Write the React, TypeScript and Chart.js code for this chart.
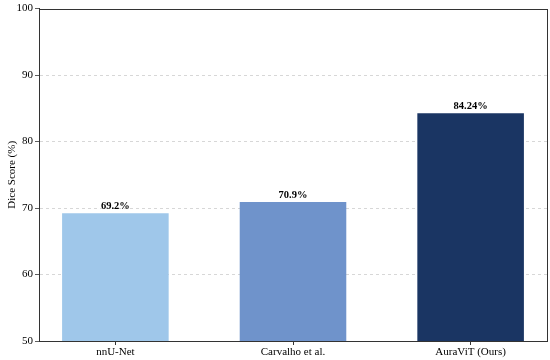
import React, { useEffect, useRef } from "react";
import { Chart, registerables } from "chart.js";

Chart.register(...registerables);

const categories = ["nnU-Net", "Carvalho et al.", "AuraViT (Ours)"];
const diceScores = [69.2, 70.9, 84.24];
const valueLabels = ["69.2%", "70.9%", "84.24%"];
const barColors = ["#9fc7ea", "#6f93cb", "#1a3563"];
const yTicks = [50, 60, 70, 80, 90, 100];

const FONT = "'Liberation Serif', 'Times New Roman', serif";

const framePlugin = {
  id: "frame",
  afterDraw(chart: any) {
    const { ctx, chartArea } = chart;
    ctx.save();
    ctx.strokeStyle = "#333333";
    ctx.lineWidth = 1;
    ctx.setLineDash([]);
    ctx.strokeRect(
      Math.round(chartArea.left) + 0.5,
      Math.round(chartArea.top) + 0.5,
      Math.round(chartArea.right - chartArea.left),
      Math.round(chartArea.bottom - chartArea.top)
    );
    ctx.restore();
  },
};

const valueLabelPlugin = {
  id: "valueLabels",
  afterDatasetsDraw(chart: any) {
    const { ctx } = chart;
    const meta = chart.getDatasetMeta(0);
    ctx.save();
    ctx.font = `bold 10.5px ${FONT}`;
    ctx.fillStyle = "#000000";
    ctx.textAlign = "center";
    ctx.textBaseline = "bottom";
    meta.data.forEach((bar: any, i: number) => {
      ctx.fillText(valueLabels[i], bar.x, bar.y - 2);
    });
    ctx.restore();
  },
};

export default function App() {
  const canvasRef = useRef<HTMLCanvasElement | null>(null);

  useEffect(() => {
    if (!canvasRef.current) return;
    const chart = new Chart(canvasRef.current, {
      type: "bar",
      data: {
        datasets: [
          {
            data: diceScores.map((v, i) => ({ x: i, y: v })),
            backgroundColor: barColors,
            borderWidth: 0,
            barPercentage: 0.6,
            categoryPercentage: 1,
          },
        ],
      },
      options: {
        responsive: false,
        animation: false,
        layout: { padding: { top: 7, right: 3, left: 0, bottom: 0 } },
        plugins: {
          legend: { display: false },
          tooltip: { enabled: false },
        },
        scales: {
          x: {
            type: "linear",
            min: -0.43,
            max: 2.43,
            offset: false,
            afterBuildTicks: (scale: any) => {
              scale.ticks = categories.map((_, i) => ({ value: i }));
            },
            afterFit: (scale: any) => {
              scale.height = 19;
            },
            ticks: {
              callback: (v: any) => categories[v as number] ?? "",
              color: "#000000",
              font: { family: FONT, size: 11 },
              padding: 1,
              maxRotation: 0,
              autoSkip: false,
            },
            grid: {
              display: true,
              offset: false,
              drawOnChartArea: false,
              drawTicks: true,
              tickLength: 4,
              tickColor: "#333333",
            },
            border: { display: true, color: "#333333" },
          },
          y: {
            min: 50,
            max: 100,
            z: 1,
            afterBuildTicks: (scale: any) => {
              scale.ticks = yTicks.map((v) => ({ value: v }));
            },
            afterFit: (scale: any) => {
              scale.width = 39;
            },
            ticks: {
              color: "#000000",
              font: { family: FONT, size: 11 },
              padding: 2,
            },
            grid: {
              color: (c: any) =>
                c.tick && (c.tick.value === 50 || c.tick.value === 100)
                  ? "rgba(0,0,0,0)"
                  : "rgba(170,170,170,0.6)",
              tickColor: "#333333",
              tickLength: 4,
              tickBorderDash: [],
              tickBorderDashOffset: 0,
              lineWidth: 0.8,
            } as any,
            border: { display: true, color: "#333333", dash: [3, 3] },
            title: {
              display: true,
              text: "Dice Score (%)",
              color: "#000000",
              font: { family: FONT, size: 11 },
              padding: { top: 6, bottom: 0 },
            },
          },
        },
      },
      plugins: [valueLabelPlugin, framePlugin],
    } as any);
    return () => chart.destroy();
  }, []);

  return (
    <div style={{ position: "fixed", left: 0, top: 0, width: 550, height: 360, background: "#ffffff" }}>
      <canvas ref={canvasRef} width={550} height={360} />
    </div>
  );
}
